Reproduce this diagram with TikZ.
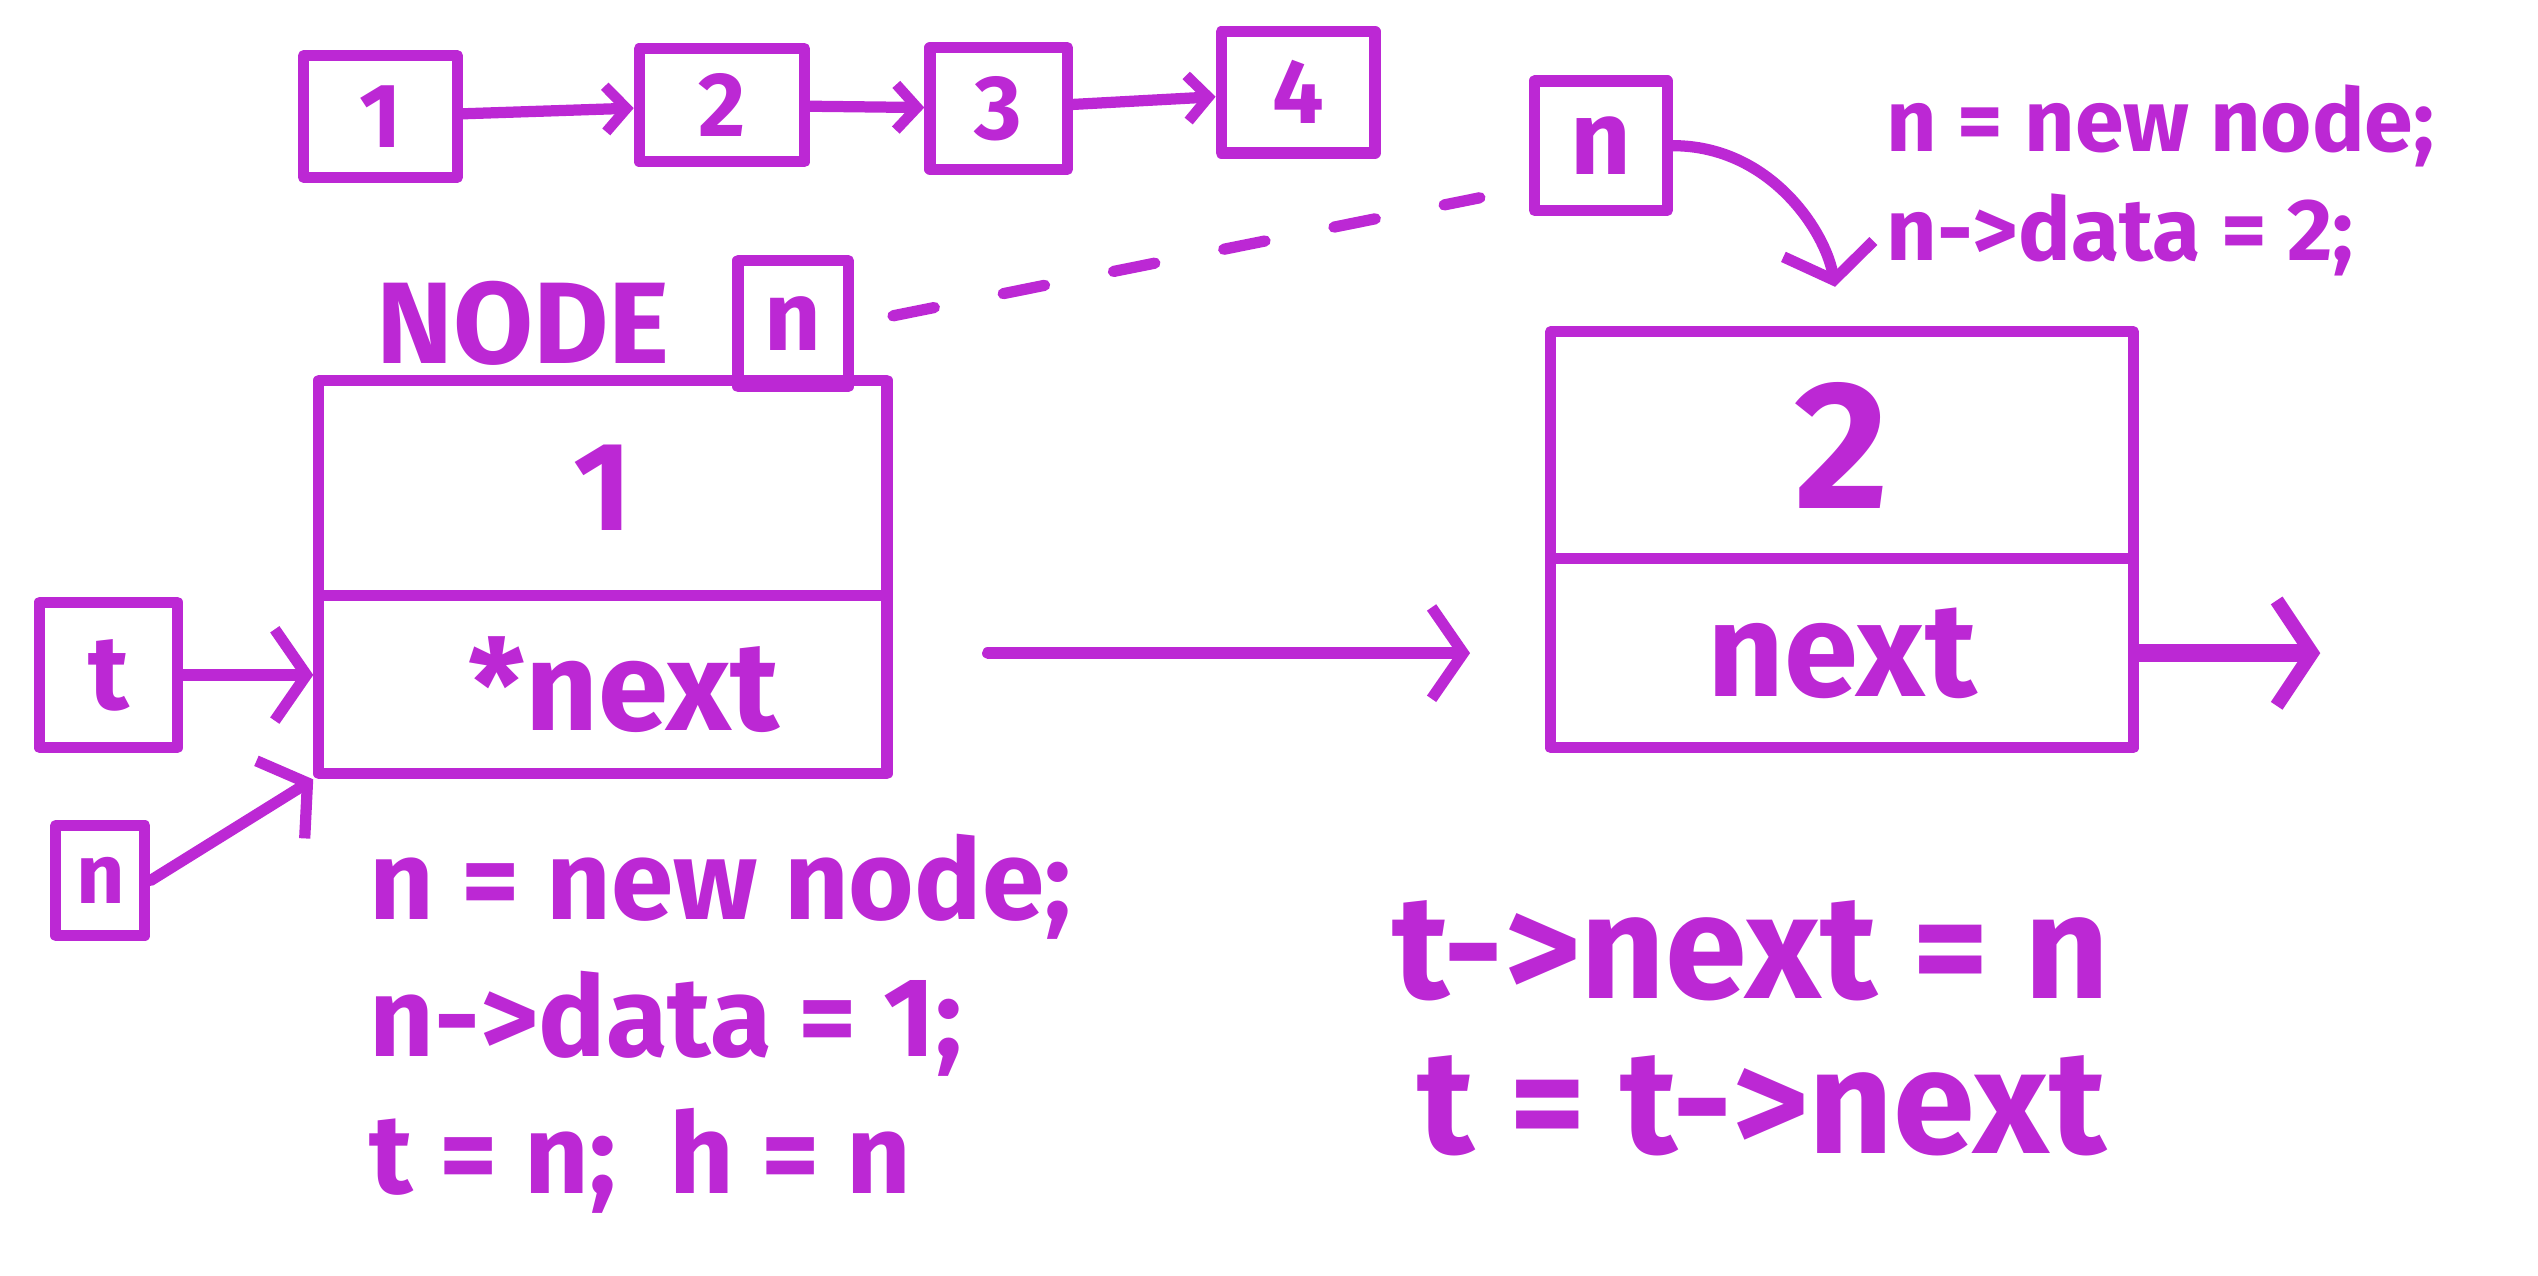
\documentclass[tikz,border=0pt]{standalone}
\usepackage{fontspec}
\setmainfont{Fira Sans}
\usetikzlibrary{arrows.meta, positioning, calc}
\definecolor{marker}{RGB}{188,40,212}
\newcommand{\pxu}{0.1619mm}

\tikzset{
  pen/.style={marker, line width=3.2pt, line cap=round, line join=round},
  cellbox/.style={pen, draw, inner sep=0pt, text=marker},
  link/.style={pen, -{Straight Barb[length=9pt, width=26pt, line width=3.2pt]}},
  hand/.style={text=marker, inner sep=0pt, align=left, anchor=north west}
}

\begin{document}
\begin{tikzpicture}[x=0.1619mm, y=-0.1619mm]
  \useasboundingbox (0,0) rectangle (1568,788);

  % list at the top
  \foreach \i/\x/\y/\w/\h in {1/235/72/95/75, 2/446/65/102/70,
                              3/617/67/85/75, 4/802/57/95/75} {
    \node[cellbox, minimum width=\w*\pxu, minimum height=\h*\pxu,
          font=\fontsize{26}{30}\selectfont\bfseries] (c\i) at (\x,\y) {\i};
  }
  \foreach \a/\b in {1/2, 2/3, 3/4}
    \draw[pen, -{Straight Barb[length=6pt, width=13pt, line width=3pt]}] (c\a) -- (c\b);

  % first node
  \node[font=\fontsize{33}{36}\selectfont\bfseries, text=marker, inner sep=0pt,
        anchor=south west] (title) at (232,226) {NODE};
  \node[cellbox, minimum width=68*\pxu, minimum height=78*\pxu,
        font=\fontsize{28}{32}\selectfont\bfseries] (nold) at (490,200) {n};
  \node[cellbox, minimum width=351*\pxu, minimum height=133*\pxu,
        font=\fontsize{36}{40}\selectfont\bfseries] (d1) at (372.5,301.5) {1};
  \node[cellbox, minimum width=351*\pxu, minimum height=110*\pxu, below=-3.2pt of d1,
        font=\fontsize{36}{40}\selectfont\bfseries] (n1) {\,\,*next};

  \node[cellbox, minimum width=85*\pxu, minimum height=90*\pxu,
        font=\fontsize{30}{34}\selectfont\bfseries] (tptr) at (67,417) {t};
  \node[cellbox, minimum width=55*\pxu, minimum height=68*\pxu,
        font=\fontsize{24}{28}\selectfont\bfseries] (nptr) at (62,544) {n};
  \draw[link] (tptr.east) -- (tptr.east -| n1.west);
  \draw[link] (nptr.east) -- (n1.south west);

  % second node
  \node[cellbox, minimum width=82*\pxu, minimum height=80*\pxu,
        font=\fontsize{30}{34}\selectfont\bfseries] (nnew) at (989,90) {n};
  \node[cellbox, minimum width=360*\pxu, minimum height=140*\pxu,
        font=\fontsize{52}{56}\selectfont\bfseries] (d2) at (1138,275) {2};
  \node[cellbox, minimum width=360*\pxu, minimum height=117*\pxu, below=-3.2pt of d2,
        font=\fontsize{38}{42}\selectfont\bfseries] (n2) {next};

  \draw[pen, dash pattern=on 12pt off 20pt, shorten <=4mm, shorten >=5mm]
    (nold.east) -- ($(nnew.west)!0.6!(nnew.south west)$);
  \draw[link, shorten >=4mm] (nnew.east) to[out=0, in=100] (d2.north);
  \draw[link, shorten <=9.5mm, shorten >=7.5mm] (n2.west -| n1.east) -- (n2.west);
  \coordinate (nil) at ($(n2.east)+(112,0)$);
  \draw[pen, line width=5pt, -{Straight Barb[length=10pt, width=30pt, line width=4pt]}]
    (n2.east) -- (nil);

  % code
  \node[hand, font=\fontsize{25}{31}\selectfont\bfseries] (code2) at (1165,52)
    {n = new node;\\n->data = 2;};
  \node[hand, font=\fontsize{32}{39}\selectfont\bfseries] (code1) at (228,515)
    {n = new node;\\n->data = 1;\\t = n; \ h = n};
  \node[hand, font=\fontsize{42}{44}\selectfont\bfseries] (code3) at (860,556)
    {t->next = n\\\,t = t->next};
\end{tikzpicture}
\end{document}
